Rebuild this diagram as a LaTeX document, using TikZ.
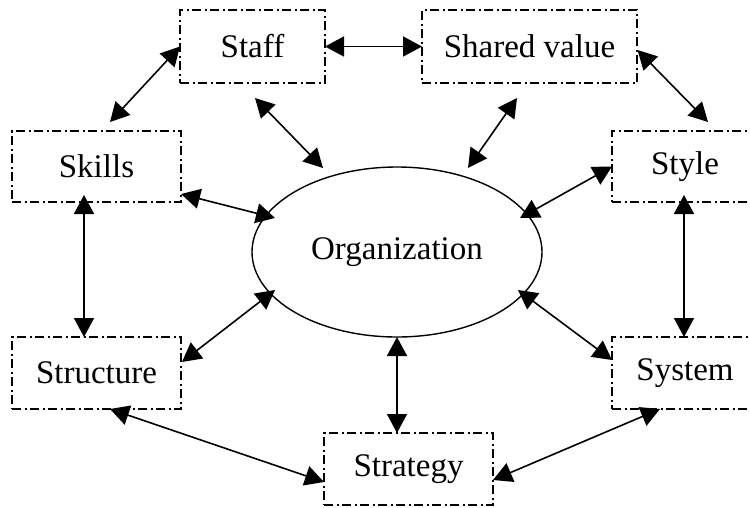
\documentclass[tikz,border=0pt]{standalone}
\usepackage{fontspec}
\setmainfont{Liberation Serif}
\usetikzlibrary{arrows.meta,calc,shapes.geometric}

\tikzset{
  sbox/.style={draw, line width=1.2pt, dash pattern=on 9pt off 3.5pt on 2pt off 3.5pt,
    rectangle, inner sep=0pt, outer sep=0pt},
  link/.style={draw, line width=1.6pt,
    {Triangle[length=19pt,width=20pt]}-{Triangle[length=19pt,width=20pt]}}
}

\begin{document}
\begin{tikzpicture}[x=1pt,y=-1pt,font=\fontsize{33}{40}\selectfont]

      \clip (0,0) rectangle (750,507);

      \begin{scope}[every node/.style={sbox}]
        \node[minimum width=145pt, minimum height=73pt] (staff)     at (252.5,46.5) {Staff};
        \node[minimum width=215pt, minimum height=73pt] (shared)    at (529.5,46.5) {Shared value};
        \node[minimum width=169pt, minimum height=71pt] (skills)    at (96.5,166.5) {Skills};
        \node[minimum width=146pt, minimum height=71pt] (style)     at (685,166.5)  {Style};
        \node[minimum width=169pt, minimum height=72pt] (structure) at (96.5,373)   {Structure\hspace{10pt}};
        \node[minimum width=146pt, minimum height=72pt] (system)    at (685,373)    {System\hspace{10pt}};
        \node[minimum width=169pt, minimum height=72pt] (strategy)  at (408.5,469)  {Strategy\hspace{22pt}};
      \end{scope}

      \node[draw, ellipse, line width=1.4pt, inner sep=0pt, outer sep=0pt,
            minimum width=290pt, minimum height=170pt] (org) at (397,252) {Organization};

      \begin{scope}[every edge/.style={link}]
        \path (staff.east) edge (shared.west);
        \path (staff.west) edge ($(skills.north)+(13.5,-9)$);
        \path ($(staff.south)+(2.5,15)$) edge ($(org.center)+(-74,-84)$);
        \path ($(shared.south)+(-12.5,15)$) edge ($(org.center)+(71,-84)$);
        \path ($(shared.east)+(0.5,3.5)$) edge ($(style.north)+(23,-9)$);
        \path ($(skills.south east)+(0,-8)$) edge ($(org.center)+(-122,-34)$);
        \path (style.west) edge ($(org.center)+(123,-34)$);
        \path ($(skills.south)+(-12.5,-7)$) edge ($(structure.north)+(-12.5,0)$);
        \path ($(style.south)+(-1,-7)$) edge ($(system.north)+(-1,0)$);
        \path ($(org.center)+(-122,38)$) edge ($(structure.east)+(1,-11)$);
        \path ($(org.center)+(121,38)$) edge ($(system.west)+(0,-13)$);
        \path (org.south) edge ($(strategy.north)+(-11.5,0)$);
        \path ($(structure.south)+(13.5,0)$) edge ($(strategy.west)+(0,13)$);
        \path ($(system.south)+(-25,0)$) edge ($(strategy.east)+(0,11)$);
      \end{scope}

    \end{tikzpicture}
\end{document}
